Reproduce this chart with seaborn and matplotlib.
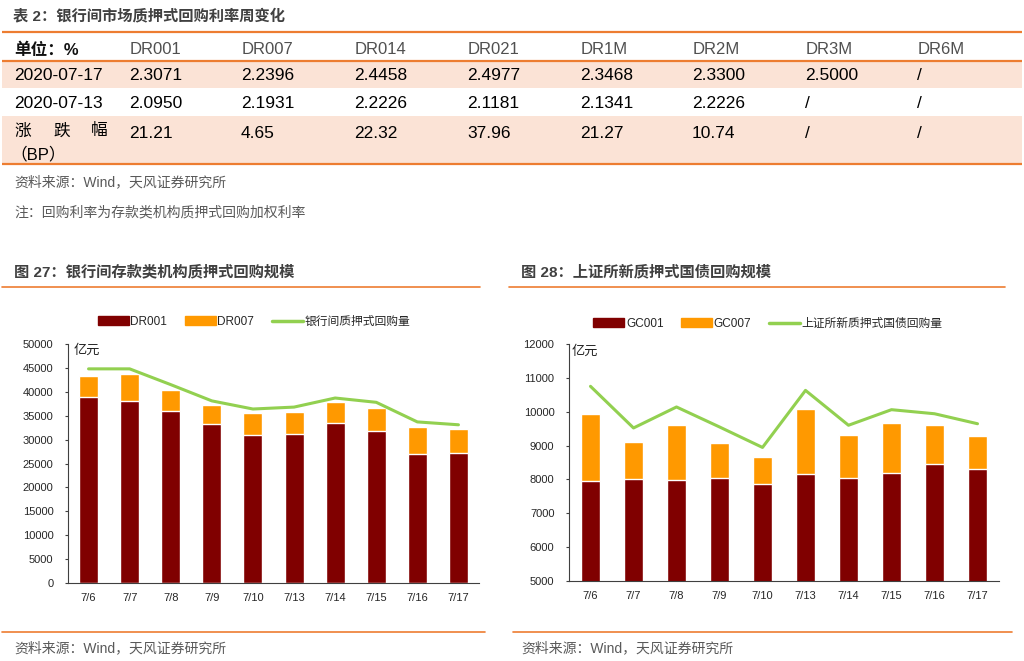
import numpy as np
import pandas as pd
import matplotlib
matplotlib.use('Agg')
import matplotlib.pyplot as plt
from matplotlib.patches import Rectangle, Patch
from matplotlib.lines import Line2D
import seaborn as sns

# table: weekly change of interbank repo rates
rate_cols = ['DR001', 'DR007', 'DR014', 'DR021', 'DR1M', 'DR2M', 'DR3M', 'DR6M']
rate_0717 = ['2.3071', '2.2396', '2.4458', '2.4977', '2.3468', '2.3300', '2.5000', '/']
rate_0713 = ['2.0950', '2.1931', '2.2226', '2.1181', '2.1341', '2.2226', '/', '/']
rate_chg = ['21.21', '4.65', '22.32', '37.96', '21.27', '10.74', '/', '/']

# charts (亿元)
dates = ['7/6', '7/7', '7/8', '7/9', '7/10', '7/13', '7/14', '7/15', '7/16', '7/17']
dr001 = [38900, 38100, 35900, 33200, 31000, 31200, 33500, 31900, 26900, 27200]
dr007 = [4500, 5600, 4500, 4000, 4500, 4600, 4300, 4800, 5800, 5100]
ib_total = [44800, 44800, 41500, 38100, 36400, 36800, 38700, 37800, 33700, 33100]

gc001 = [7960, 8020, 7970, 8040, 7870, 8150, 8030, 8180, 8450, 8300]
gc007 = [1970, 1100, 1650, 1030, 780, 1930, 1270, 1500, 1160, 980]
sh_total = [10750, 9520, 10140, 9550, 8945, 10630, 9600, 10060, 9940, 9645]

DARKRED = '#800000'
ORANGE = '#FF9900'
GREEN = '#92D050'
LINE_OR = '#ED7D31'
SHADE = '#FBE3D6'
GREY = '#595959'

sns.set_style('white')
plt.rcParams['font.family'] = ['Liberation Sans', 'Noto Sans CJK SC']

fig = plt.figure(figsize=(10.24, 6.61), dpi=100)

# overlay in pixel coordinates for table and captions
ov = fig.add_axes([0, 0, 1, 1], zorder=-1)
ov.set_xlim(0, 1024)
ov.set_ylim(661, 0)
ov.axis('off')

ov.text(13, 16, '表 2：银行间市场质押式回购利率周变化', fontsize=11, fontweight='bold',
        color='#404040', va='center')
ov.add_patch(Rectangle((2, 62), 1020, 26, color=SHADE, lw=0))
ov.add_patch(Rectangle((2, 116), 1020, 47, color=SHADE, lw=0))
for y in [32, 61, 164]:
    ov.plot([2, 1022], [y, y], color=LINE_OR, lw=1.6, solid_capstyle='butt')

col_x = [130, 242, 355, 468, 581, 693, 806, 918]
ov.text(14, 50, '单位：%', fontsize=12, fontweight='bold', color='#111111', va='center')
for x, c in zip(col_x, rate_cols):
    ov.text(x, 50, c, fontsize=12, color='#505050', va='center')
ov.text(14, 76, '2020-07-17', fontsize=12.5, va='center', color='black')
ov.text(14, 104, '2020-07-13', fontsize=12.5, va='center', color='black')
for ch, x in zip(['涨', '跌', '幅'], [14, 53, 91]):
    ov.text(x, 131, ch, fontsize=12, va='center', color='black')
ov.text(10, 154, '（BP）', fontsize=12, va='center', color='black')
for x, a, b, c in zip(col_x, rate_0717, rate_0713, rate_chg):
    ov.text(x - 1, 76, a, fontsize=12.5, va='center', color='black')
    ov.text(x - 1, 104, b, fontsize=12.5, va='center', color='black')
    ov.text(x - 1, 134, c, fontsize=12.5, va='center', color='black')

ov.text(14, 182, '资料来源：Wind，天风证券研究所', fontsize=10, color=GREY, va='center')
ov.text(14, 212, '注：回购利率为存款类机构质押式回购加权利率', fontsize=10, color=GREY, va='center')

ov.text(14, 272, '图 27：银行间存款类机构质押式回购规模', fontsize=11, fontweight='bold',
        color='#404040', va='center')
ov.text(521, 272, '图 28：上证所新质押式国债回购规模', fontsize=11, fontweight='bold',
        color='#404040', va='center')
ov.plot([2, 480], [287, 287], color=LINE_OR, lw=1.2)
ov.plot([509, 1005], [287, 287], color=LINE_OR, lw=1.2)
ov.plot([2, 485], [632, 632], color=LINE_OR, lw=1.2)
ov.plot([513, 1012], [632, 632], color=LINE_OR, lw=1.2)
ov.text(14, 648, '资料来源：Wind，天风证券研究所', fontsize=10, color=GREY, va='center')
ov.text(521, 648, '资料来源：Wind，天风证券研究所', fontsize=10, color=GREY, va='center')


def draw_chart(rect, s1, s2, line, names, ylims, step, leg_xy, unit_xy):
    ax = fig.add_axes(rect)
    ax.set_facecolor('none')
    df = pd.DataFrame({'date': dates, 'a': s1, 'b': s2, 'line': line})
    df['top'] = df['a'] + df['b']
    sns.barplot(data=df, x='date', y='top', color=ORANGE, saturation=1, width=0.46,
                errorbar=None, ax=ax)
    sns.barplot(data=df, x='date', y='a', color=DARKRED, saturation=1, width=0.46,
                errorbar=None, ax=ax)
    sns.lineplot(x=np.arange(len(dates)), y=df['line'], color=GREEN, lw=2.2, sort=False, ax=ax)
    ax.set_xlim(-0.5, len(dates) - 0.5)
    ax.set_ylim(*ylims)
    ax.set_yticks(np.arange(ylims[0], ylims[1] + 1, step))
    ax.set_xlabel('')
    ax.set_ylabel('')
    ax.set_xticks(np.arange(-0.5, len(dates)), minor=True)
    ax.tick_params(axis='x', which='major', length=0, pad=7, labelsize=8)
    ax.tick_params(axis='x', which='minor', length=3, width=0.8, color='#404040', direction='out')
    ax.tick_params(axis='y', which='major', length=2.5, width=0.8, color='#404040',
                   direction='out', pad=8, labelsize=8, left=True)
    for s in ['top', 'right']:
        ax.spines[s].set_visible(False)
    for s in ['left', 'bottom']:
        ax.spines[s].set_color('#404040')
        ax.spines[s].set_linewidth(0.8)
    handles = [Patch(color=DARKRED, label=names[0]),
               Patch(color=ORANGE, label=names[1]),
               Line2D([], [], color=GREEN, lw=2.5, label=names[2])]
    ax.legend(handles=handles, loc='center', ncol=3, frameon=False,
              bbox_to_anchor=(leg_xy[0] / 1024, 1 - leg_xy[1] / 661),
              bbox_transform=fig.transFigure, fontsize=8.5, handlelength=2.6,
              handleheight=0.8, handletextpad=0.15, columnspacing=1.5)
    fig.text(unit_xy[0] / 1024, 1 - unit_xy[1] / 661, '亿元', fontsize=9.5,
             color='#222222', va='center')
    return ax


draw_chart([68 / 1024, 1 - 583 / 661, 411 / 1024, 239 / 661], dr001, dr007, ib_total,
           ['DR001', 'DR007', '银行间质押式回购量'], (0, 50000), 5000, (254, 322), (74, 351))
draw_chart([569 / 1024, 1 - 581 / 661, 430 / 1024, 237 / 661], gc001, gc007, sh_total,
           ['GC001', 'GC007', '上证所新质押式国债回购量'], (5000, 12000), 1000, (768, 324),
           (572, 352))

fig.savefig('out.png', dpi=100)
